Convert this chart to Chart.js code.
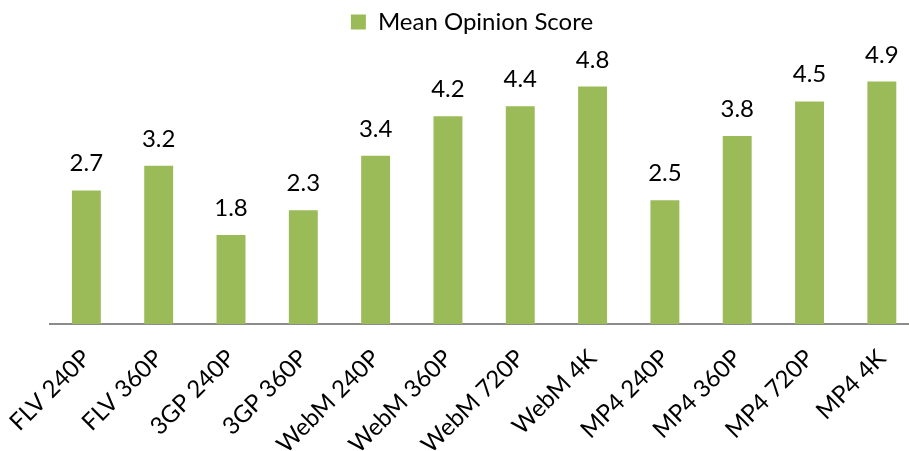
<!DOCTYPE html>
<html>
<head>
<meta charset="utf-8">
<script src="https://cdn.jsdelivr.net/npm/chart.js@4"></script>
<style>
  html, body { margin: 0; padding: 0; overflow: hidden; background: #fff; }
  #wrap { width: 909px; height: 451px; overflow: hidden; }
  canvas { display: block; }
</style>
</head>
<body>
<div id="wrap"><canvas id="mosChart" width="918" height="451"></canvas></div>
<script>
// categories and values
var categories = ['FLV 240P', 'FLV 360P', '3GP 240P', '3GP 360P', 'WebM 240P', 'WebM 360P',
                  'WebM 720P', 'WebM 4K', 'MP4 240P', 'MP4 360P', 'MP4 720P', 'MP4 4K'];
var mosValues = [2.7, 3.2, 1.8, 2.3, 3.4, 4.2, 4.4, 4.8, 2.5, 3.8, 4.5, 4.9];
var seriesName = 'Mean Opinion Score';

var fontFamily = 'Lato, "Noto Sans", sans-serif';

// value labels above bars
var valueLabels = {
    id: 'valueLabels',
    afterDatasetsDraw: function(chart) {
        var ctx = chart.ctx;
        var meta = chart.getDatasetMeta(0);
        ctx.save();
        ctx.font = '24px ' + fontFamily;
        ctx.fillStyle = '#000';
        ctx.textAlign = 'center';
        ctx.textBaseline = 'alphabetic';
        meta.data.forEach(function(bar, i) {
            ctx.fillText(mosValues[i].toFixed(1), bar.x, bar.y - 19);
        });
        ctx.restore();
    }
};

var ctx = document.getElementById('mosChart').getContext('2d');
var chart = new Chart(ctx, {
    type: 'bar',
    data: {
        labels: categories,
        datasets: [{
            label: seriesName,
            data: mosValues,
            backgroundColor: '#9BBB59',
            borderWidth: 0,
            categoryPercentage: 1.0,
            barPercentage: 0.4
        }]
    },
    options: {
        responsive: false,
        animation: false,
        // legend is centred over 26..918, plot starts at 48
        layout: { padding: { left: 26, right: 0, top: 0, bottom: 0 } },
        plugins: {
            legend: {
                display: true,
                position: 'top',
                labels: {
                    boxWidth: 15,
                    boxHeight: 15,
                    padding: 10,
                    color: '#000',
                    font: { family: fontFamily, size: 24 }
                }
            },
            tooltip: { enabled: false }
        },
        scales: {
            x: {
                grid: { display: false },
                border: { display: true, color: '#8c8c8c', width: 2 },
                ticks: {
                    color: '#000',
                    font: { family: fontFamily, size: 24 },
                    minRotation: 45,
                    maxRotation: 45,
                    padding: 12
                },
                afterFit: function(scale) { scale.height = 127; }
            },
            y: {
                display: true,
                min: 0,
                max: 5.66,
                grid: { display: false },
                border: { display: false },
                ticks: { display: false },
                afterFit: function(scale) { scale.width = 22; }
            }
        }
    },
    plugins: [valueLabels]
});
</script>
</body>
</html>
